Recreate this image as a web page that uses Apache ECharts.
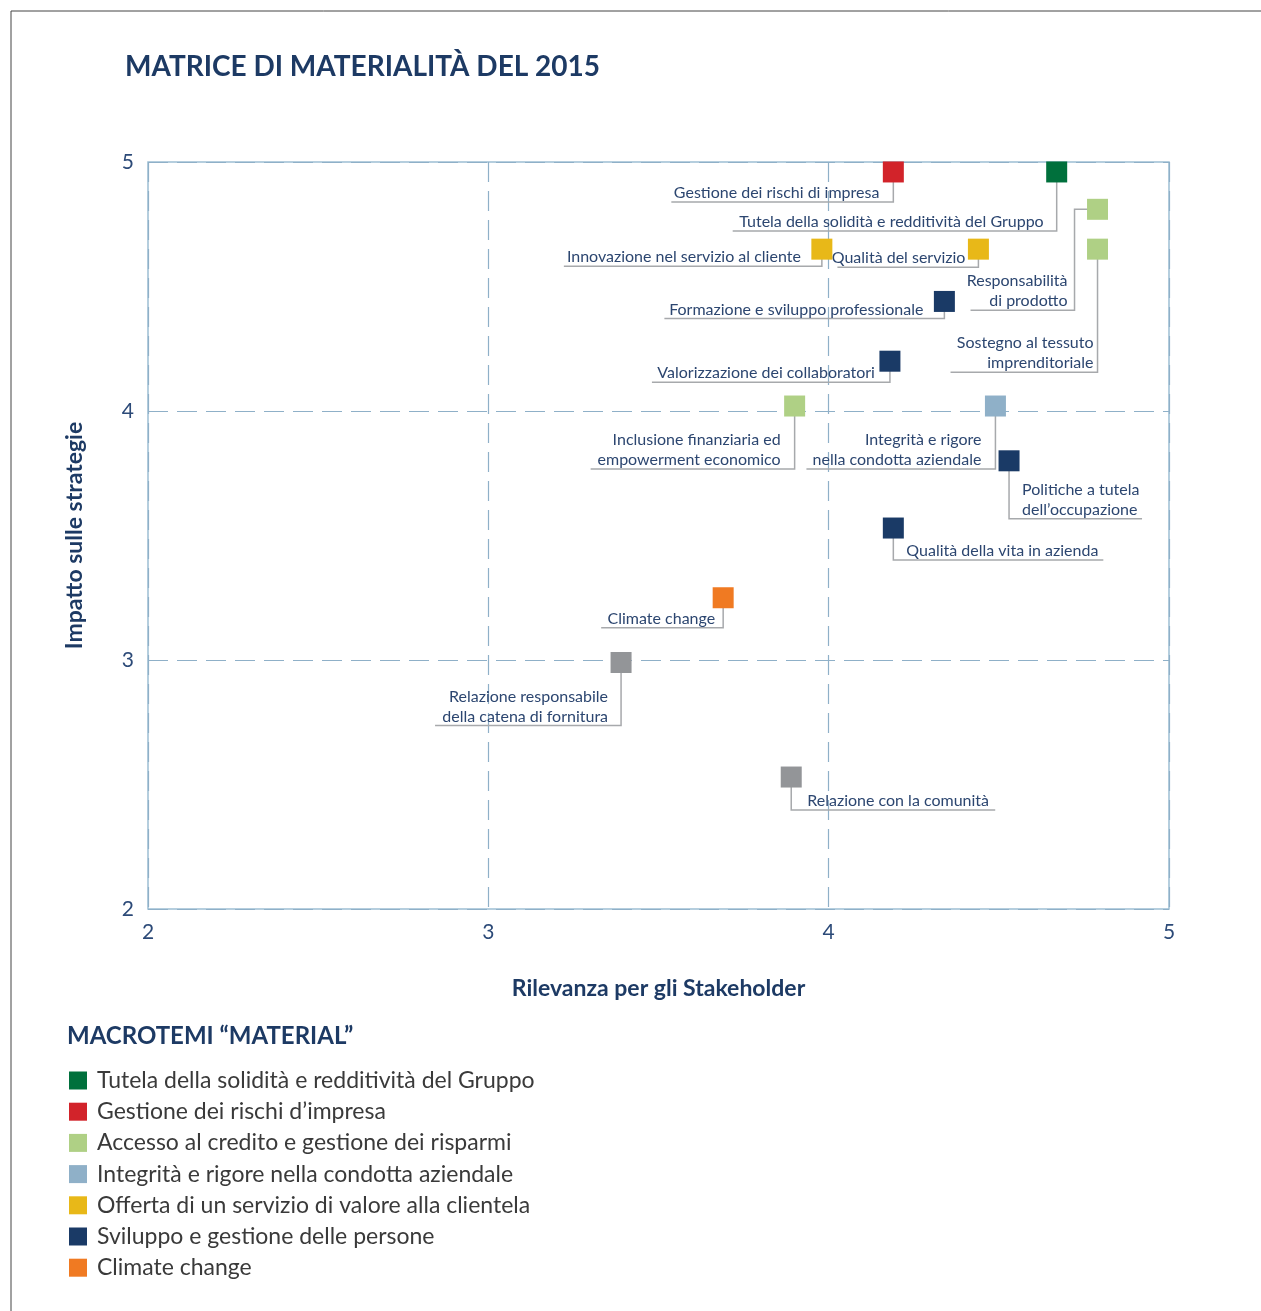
<!DOCTYPE html>
<html>
<head>
<meta charset="utf-8">
<script src="https://cdn.jsdelivr.net/npm/echarts@6/dist/echarts.min.js"></script>
<style>
  html, body { margin: 0; padding: 0; background: #ffffff; }
  #chart { width: 1261px; height: 1311px; }
</style>
</head>
<body>
<div id="chart"></div>
<script>
// ---- DATA ----
const groups = [
  'Tutela della solidità e redditività del Gruppo',
  'Gestione dei rischi d\u2019impresa',
  'Accesso al credito e gestione dei risparmi',
  'Integrità e rigore nella condotta aziendale',
  'Offerta di un servizio di valore alla clientela',
  'Sviluppo e gestione delle persone',
  'Climate change',
  'Altri temi'
];
const topics = [
  'Gestione dei rischi di impresa',
  'Tutela della solidità e redditività del Gruppo',
  'Responsabilità\ndi prodotto',
  'Sostegno al tessuto\nimprenditoriale',
  'Innovazione nel servizio al cliente',
  'Qualità del servizio',
  'Formazione e sviluppo professionale',
  'Valorizzazione dei collaboratori',
  'Inclusione finanziaria ed\nempowerment economico',
  'Integrità e rigore\nnella condotta aziendale',
  'Politiche a tutela\ndell\u2019occupazione',
  'Qualità della vita in azienda',
  'Climate change',
  'Relazione responsabile\ndella catena di fornitura',
  'Relazione con la comunità'
];
const rilevanza = [4.19, 4.67, 4.79, 4.79, 3.98, 4.44, 4.34, 4.18, 3.90, 4.49, 4.53, 4.19, 3.69, 3.39, 3.89];
const impatto   = [4.96, 4.96, 4.81, 4.65, 4.65, 4.65, 4.44, 4.20, 4.02, 4.02, 3.80, 3.53, 3.25, 2.99, 2.53];
const topicGroup = [1, 0, 2, 2, 4, 4, 5, 5, 2, 3, 5, 5, 6, 7, 7];
const axisTicks = [2, 3, 4, 5];

// ---- STYLE / LAYOUT ----
const groupColors = ['#00703c', '#d2232a', '#afd085', '#8fb0c8', '#e8b818', '#1a3a66', '#f07a22', '#939598'];
// leader-line layout relative to marker centre (pixels)
const labelLayout = [
  {vx: 0,   dy: 30,  ex: -222, tx: -14, align: 'right'},
  {vx: 0,   dy: 59,  ex: -324, tx: -13, align: 'right'},
  {vx: -23, dy: 101, ex: -127, tx: -30, align: 'right'},
  {vx: 0,   dy: 123, ex: -147, tx: -4,  align: 'right'},
  {vx: 0,   dy: 17,  ex: -258, tx: -21, align: 'right'},
  {vx: 0,   dy: 18,  ex: -141, tx: -13, align: 'right'},
  {vx: 0,   dy: 17,  ex: -280, tx: -21, align: 'right'},
  {vx: 0,   dy: 21,  ex: -238, tx: -15, align: 'right'},
  {vx: 0,   dy: 63,  ex: -204, tx: -14, align: 'right'},
  {vx: 0,   dy: 63,  ex: -189, tx: -14, align: 'right'},
  {vx: 0,   dy: 58,  ex: 133,  tx: 13,  align: 'left'},
  {vx: 0,   dy: 32,  ex: 210,  tx: 13,  align: 'left'},
  {vx: 0,   dy: 30,  ex: -122, tx: -8,  align: 'right'},
  {vx: 0,   dy: 63,  ex: -186, tx: -13, align: 'right'},
  {vx: 0,   dy: 33,  ex: 204,  tx: 16,  align: 'left'}
];

const FONT = 'Lato, "Noto Sans", sans-serif';
const NAVY = '#1d3a64';
const TEXT = '#2c4670';

const scatterSeries = groups.map((g, gi) => ({
  name: g,
  type: 'scatter',
  symbol: 'rect',
  symbolSize: 21,
  z: 3,
  itemStyle: { color: groupColors[gi], opacity: 1 },
  emphasis: { disabled: true },
  data: topics.map((t, i) => topicGroup[i] === gi ? [rilevanza[i], impatto[i]] : null).filter(d => d)
}));

const leaderSeries = {
  type: 'custom',
  z: 2,
  silent: true,
  data: topics.map((t, i) => [rilevanza[i], impatto[i]]),
  renderItem: function (params, api) {
    const i = params.dataIndex;
    const c = api.coord([api.value(0), api.value(1)]);
    const L = labelLayout[i];
    const cx = c[0], cy = c[1];
    const uy = cy + L.dy;
    let pts;
    if (L.vx !== 0) {
      pts = [[cx, cy], [cx + L.vx, cy], [cx + L.vx, uy], [cx + L.ex, uy]];
    } else {
      pts = [[cx, cy], [cx, uy], [cx + L.ex, uy]];
    }
    return {
      type: 'group',
      children: [
        { type: 'polyline', shape: { points: pts }, style: { stroke: '#a7a9ac', lineWidth: 1.5, fill: null } },
        { type: 'text', x: cx + L.tx, y: uy + 1,
          style: { text: topics[i], align: L.align, verticalAlign: 'bottom',
                   font: '16px ' + FONT, lineHeight: 20, fill: TEXT } }
      ]
    };
  }
};

const chart = echarts.init(document.getElementById('chart'), null, { renderer: 'canvas' });
chart.setOption({
  animation: false,
  backgroundColor: '#ffffff',
  title: [
    { text: 'MATRICE DI MATERIALITÀ DEL 2015', left: 125, top: 53, padding: 0,
      textStyle: { fontFamily: FONT, fontWeight: 'bold', fontSize: 28, color: NAVY } },
    { text: 'MACROTEMI \u201CMATERIAL\u201D', left: 67, top: 1024, padding: 0,
      textStyle: { fontFamily: FONT, fontWeight: 'bold', fontSize: 24, color: NAVY } }
  ],
  graphic: [
    { type: 'line', shape: { x1: 11, y1: 11, x2: 1261, y2: 11 }, style: { stroke: '#444', lineWidth: 1 } },
    { type: 'line', shape: { x1: 11, y1: 11, x2: 11, y2: 1311 }, style: { stroke: '#444', lineWidth: 1 } }
  ],
  legend: {
    data: groups.slice(0, 7),
    orient: 'vertical',
    left: 69, top: 1069,
    height: 240,
    padding: 0,
    icon: 'rect',
    itemWidth: 18, itemHeight: 18,
    itemGap: 8.2,
    selectedMode: false,
    textStyle: { fontFamily: FONT, fontSize: 23, color: '#3a3a3a', padding: [0, 0, 0, 5] }
  },
  grid: { left: 148, right: 92, top: 162, bottom: 402, show: true, borderColor: '#9dbfd3', borderWidth: 1.5 },
  xAxis: {
    type: 'value', min: axisTicks[0], max: axisTicks[axisTicks.length - 1], interval: 1,
    name: 'Rilevanza per gli Stakeholder', nameLocation: 'middle', nameGap: 68,
    nameTextStyle: { fontFamily: FONT, fontWeight: 'bold', fontSize: 23, color: NAVY },
    axisLine: { show: false }, axisTick: { show: false },
    axisLabel: { fontFamily: FONT, fontSize: 21, color: '#2c4a78', margin: 13 },
    splitLine: { show: true, lineStyle: { color: '#8fb0c8', width: 1.2, type: [20, 9] } }
  },
  yAxis: {
    type: 'value', min: axisTicks[0], max: axisTicks[axisTicks.length - 1], interval: 1,
    name: 'Impatto sulle strategie', nameLocation: 'middle', nameGap: 62, nameRotate: 90,
    nameTextStyle: { fontFamily: FONT, fontWeight: 'bold', fontSize: 23, color: NAVY },
    axisLine: { show: false }, axisTick: { show: false },
    axisLabel: { fontFamily: FONT, fontSize: 21, color: '#2c4a78', margin: 14 },
    splitLine: { show: true, lineStyle: { color: '#8fb0c8', width: 1.2, type: [20, 9] } }
  },
  series: [leaderSeries].concat(scatterSeries)
});
</script>
</body>
</html>
